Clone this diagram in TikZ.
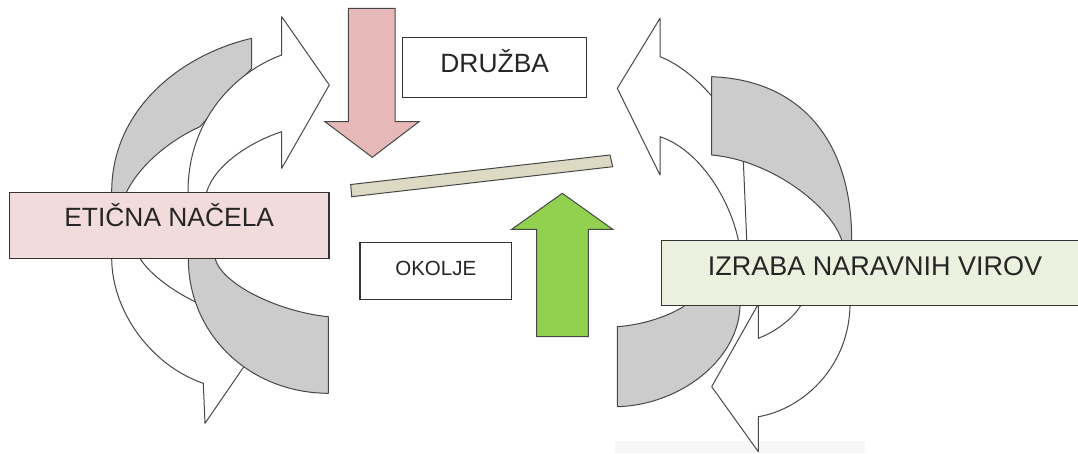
\documentclass[tikz,border=0pt]{standalone}
\usepackage{fontspec}
\setmainfont{Liberation Sans}
\usetikzlibrary{positioning}

\definecolor{pinkfill}{HTML}{F2DCDB}
\definecolor{pinkarrow}{HTML}{E6B9B8}
\definecolor{greenfill}{HTML}{EBF1DE}
\definecolor{greenarrow}{HTML}{92D050}
\definecolor{barfill}{HTML}{DDD9C3}
\definecolor{bandgray}{HTML}{CCCCCC}
\definecolor{edge}{HTML}{333333}

\begin{document}
\begin{tikzpicture}[x=1pt, y=-1pt,
  box/.style={draw=edge, line width=1.3pt, text=black!85, font=\fontsize{26.4}{30}\selectfont, text height=19pt},
  band/.style={draw=edge!90, line width=1pt, line join=round},
  block/.style={draw=edge!90, line width=1pt}]
\useasboundingbox (0,0) rectangle (1078,453);
\clip (0,0) rectangle (1078,453);

% faint floor under the right cycle
\fill[black!3] (615,441) rectangle (865,453);

% Left cycle
\filldraw[band, fill=bandgray] (251.7,38.3) .. controls (180,55) and (111.7,110) .. (111.7,191.7) -- (111.5,228)
  -- (122,228) -- (126.7,191.7) .. controls (140,165) and (170,140) .. (200,126.7) -- (251.7,68.3) -- cycle;
\filldraw[band, fill=white] (111.5,222) -- (111.7,258.3) .. controls (111.7,310) and (150,365) .. (203.3,383.3)
  -- (205,423.3) -- (256,349) -- (205,272) -- (205,307) -- (195,301.7)
  .. controls (175,292) and (150,275) .. (140,258.3) -- (135,222) -- cycle;
\filldraw[band, fill=white] (281.7,16.7) -- (329.3,85) -- (281.7,168.3) -- (281.7,131.7)
  .. controls (250,142) and (215,165) .. (206.7,191.7) -- (205,225) -- (188,225) -- (188,191.7)
  .. controls (188,120) and (235,72) .. (281.7,55) -- cycle;
\filldraw[band, fill=bandgray] (188,222) -- (188.3,258.3) .. controls (188.3,335) and (250,393) .. (328.3,393.3)
  -- (328.3,316.7) .. controls (280,312) and (222,285) .. (215,258.3) -- (208,222) -- cycle;

% Right cycle
\filldraw[band, fill=white] (660,18.3) -- (617.3,88.3) -- (660,175) -- (660,136.7)
  .. controls (700,150) and (730,200) .. (738.3,240) -- (740,262) -- (747,262) -- (746.7,240) -- (743.3,160)
  .. controls (735,110) and (690,68) .. (660,56.7) -- cycle;
\filldraw[band, fill=bandgray] (617.3,406.7) .. controls (680,405) and (738,360) .. (740,306.7) -- (742,270)
  -- (712,270) -- (683.3,306.7) .. controls (665,318) and (640,325) .. (617.3,326.7) -- cycle;
\filldraw[band, fill=bandgray] (711.7,76.7) .. controls (800,80) and (851.7,140) .. (851.7,240) -- (851.5,275)
  -- (842,275) -- (841.7,240) .. controls (830,205) and (770,160) .. (711.7,155) -- cycle;
\filldraw[band, fill=white] (851.5,270) -- (850,306.7) .. controls (848,370) and (800,410) .. (758.3,416.7)
  -- (758.3,451.7) -- (711.7,386.7) -- (758.3,304) -- (758.3,338.3)
  .. controls (780,330) and (795,315) .. (800,306.7) -- (830,270) -- cycle;

% Pressure arrows and the balance bar
\filldraw[block, fill=pinkarrow] (348.3,8.3) -- (395,8.3) -- (395,121.7) -- (419,121.7) -- (372.3,157.3) -- (325,121.7) -- (348.3,121.7) -- cycle;
\filldraw[block, fill=greenarrow] (536.7,336.7) -- (588.3,336.7) -- (588.3,229.3) -- (612.7,229.3) -- (562.3,193.3) -- (511.7,229.3) -- (536.7,229.3) -- cycle;
\filldraw[block, fill=barfill] (350.7,184.5) -- (610,155) -- (612.7,166.7) -- (351.7,196.7) -- cycle;

% Labels
\node[box, fill=pinkfill, minimum width=319.7pt, minimum height=66pt, text depth=17.2pt] (etika) at (169.2,225.3) {ETIČNA NAČELA};
\node[box, fill=white, minimum width=184pt, minimum height=60pt, text depth=9.6pt] (druzba) at (494.7,67.3) {DRUŽBA};
\node[box, fill=white, font=\fontsize{20.5}{24}\selectfont, text height=14.7pt, text depth=6pt, minimum width=151.7pt, minimum height=56.6pt] (okolje) at (435.8,271) {OKOLJE};
\node[box, fill=greenfill, font=\fontsize{27}{31}\selectfont, text height=19.3pt, text depth=14pt, minimum width=426.6pt, minimum height=65pt] (viri) at (875,273.2) {IZRABA NARAVNIH VIROV};
\end{tikzpicture}
\end{document}
